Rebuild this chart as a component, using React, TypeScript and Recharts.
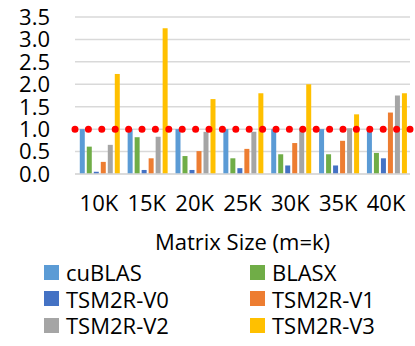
import React from 'react';
import { BarChart, Bar, XAxis, YAxis, CartesianGrid, ReferenceLine } from 'recharts';

const categories = ['10K', '15K', '20K', '25K', '30K', '35K', '40K'];
const cuBLAS = [1.0, 1.0, 1.0, 1.0, 1.0, 1.0, 1.0];
const BLASX = [0.61, 0.82, 0.4, 0.35, 0.44, 0.44, 0.47];
const V0 = [0.05, 0.09, 0.09, 0.13, 0.19, 0.19, 0.35];
const V1 = [0.27, 0.35, 0.51, 0.56, 0.69, 0.74, 1.37];
const V2 = [0.65, 0.83, 0.94, 0.94, 1.02, 1.02, 1.75];
const V3 = [2.23, 3.25, 1.67, 1.8, 2.0, 1.33, 1.8];
const yTicks = [0, 0.5, 1, 1.5, 2, 2.5, 3, 3.5];

const series = [
  { key: 'cuBLAS', name: 'cuBLAS', color: '#5B9BD5', values: cuBLAS },
  { key: 'BLASX', name: 'BLASX', color: '#70AD47', values: BLASX },
  { key: 'V0', name: 'TSM2R-V0', color: '#4472C4', values: V0 },
  { key: 'V1', name: 'TSM2R-V1', color: '#ED7D31', values: V1 },
  { key: 'V2', name: 'TSM2R-V2', color: '#A5A5A5', values: V2 },
  { key: 'V3', name: 'TSM2R-V3', color: '#FFC000', values: V3 },
];

const data = categories.map((c, i) => {
  const row: Record<string, string | number> = { name: c };
  series.forEach((s) => (row[s.key] = s.values[i]));
  return row;
});

const FONT = '"Open Sans", sans-serif';

export default function App() {
  return (
    <div style={{ position: 'absolute', left: 0, top: 0, width: 415, height: 346, fontFamily: FONT, background: '#fff' }}>
      <BarChart
        width={415}
        height={346}
        data={data}
        margin={{ top: 17, right: 5, left: 0, bottom: 92 }}
        barCategoryGap="10%"
        barGap={2}
      >
        <CartesianGrid vertical={false} stroke="#d9d9d9" strokeWidth={1.5} />
        <YAxis
          width={75}
          domain={[0, 3.5]}
          ticks={yTicks}
          tickFormatter={(v: number) => v.toFixed(1)}
          axisLine={false}
          tickLine={false}
          tickSize={0}
          tickMargin={25}
          interval={0}
          tick={{ fill: '#000', fontSize: 22, fontFamily: FONT }}
        />
        <XAxis
          dataKey="name"
          height={80}
          axisLine={{ stroke: '#d9d9d9', strokeWidth: 1.5 }}
          tickLine={false}
          tickSize={0}
          tickMargin={21}
          interval={0}
          tick={{ fill: '#000', fontSize: 22, fontFamily: FONT }}
          label={{ value: 'Matrix Size (m=k)', position: 'insideBottom', offset: 4, fill: '#000', fontSize: 22, fontFamily: FONT }}
        />
        {series.map((s) => (
          <Bar key={s.key} dataKey={s.key} name={s.name} fill={s.color} isAnimationActive={false} />
        ))}
        <ReferenceLine y={1} stroke="#FF0000" strokeWidth={7} strokeDasharray="0 13.4" strokeLinecap="round" />
      </BarChart>
      <div style={{ position: 'absolute', left: 0, top: 258, width: 415 }}>
        {series.map((s, i) => (
          <div
            key={s.key}
            style={{
              position: 'absolute',
              left: i % 2 === 0 ? 44 : 250,
              top: Math.floor(i / 2) * 26.5,
              display: 'flex',
              alignItems: 'center',
              fontSize: 22,
              lineHeight: '28px',
              color: '#000',
              whiteSpace: 'nowrap',
            }}
          >
            <span style={{ display: 'inline-block', width: 15, height: 15, background: s.color, marginRight: 7 }} />
            <span>{s.name}</span>
          </div>
        ))}
      </div>
    </div>
  );
}
